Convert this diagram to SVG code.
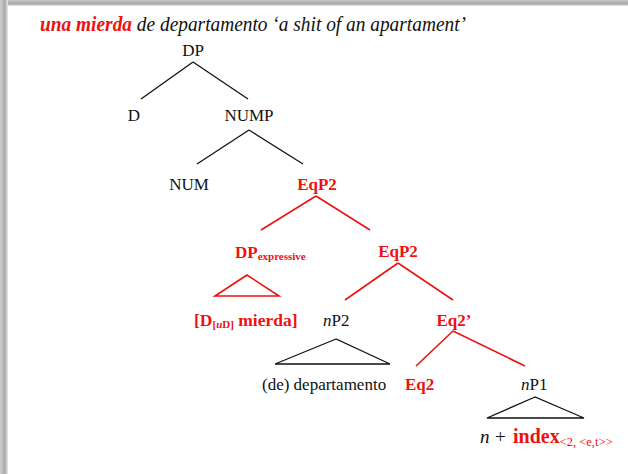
<svg xmlns="http://www.w3.org/2000/svg" width="628" height="474" viewBox="0 0 628 474">
  <style>
    .r { fill: #ee1111; font-weight: bold; }
    .it { font-style: italic; }
    .sub { font-size: 11px; }
    .mid { text-anchor: middle; }
    .k { stroke: #111; stroke-width: 1.3; fill: none; }
    .rl { stroke: #ee1111; stroke-width: 1.6; fill: none; }
  </style>
  <defs>
    <linearGradient id="shadowTop" x1="0" y1="0" x2="0" y2="1">
      <stop offset="0" stop-color="#c8c8c8"/>
      <stop offset="0.6" stop-color="#a8a8a8"/>
      <stop offset="1" stop-color="#e8e8e8"/>
    </linearGradient>
    <linearGradient id="shadowLeft" x1="0" y1="0" x2="1" y2="0">
      <stop offset="0" stop-color="#d0d0d0"/>
      <stop offset="0.6" stop-color="#a8a8a8"/>
      <stop offset="1" stop-color="#e6e6e6"/>
    </linearGradient>
  </defs>

  <!-- page background with shadow edges -->
  <rect x="0" y="0" width="628" height="474" fill="#ffffff"/>
  <rect x="0" y="0" width="628" height="6" fill="url(#shadowTop)"/>
  <rect x="0" y="0" width="8" height="474" fill="url(#shadowLeft)"/>

  <!-- connectors -->
  <g id="connectors">
    <line class="k" x1="193" y1="62" x2="141" y2="99"/>
    <line class="k" x1="193" y1="62" x2="248" y2="99"/>
    <line class="k" x1="249" y1="130" x2="197" y2="164"/>
    <line class="k" x1="249" y1="130" x2="303" y2="164"/>
    <line class="rl" x1="316" y1="196" x2="261" y2="230"/>
    <line class="rl" x1="316" y1="196" x2="370" y2="230"/>
    <line class="rl" x1="398" y1="263" x2="345" y2="300"/>
    <line class="rl" x1="398" y1="263" x2="453" y2="300"/>
    <line class="rl" x1="453" y1="331" x2="416" y2="366"/>
    <line class="rl" x1="453" y1="331" x2="525" y2="366"/>
    <polygon class="rl" points="247,275 215,296 279,296" stroke-width="1.3"/>
    <polygon class="k" points="336,339 275,364 390,364" stroke-width="1.1"/>
    <polygon class="k" points="535,397 487,418 584,418" stroke-width="1.1"/>
  </g>

  <g font-family="'Liberation Serif', 'Times New Roman', serif" font-size="17" fill="#111">
    <!-- title -->
    <text x="40" y="31" font-size="21" font-style="italic" textLength="426" lengthAdjust="spacingAndGlyphs"><tspan class="r">una mierda</tspan> de departamento ‘a shit of an apartament’</text>

    <g id="n-DP"><text class="mid" x="193" y="56">DP</text></g>
    <g id="n-D"><text class="mid" x="134" y="121">D</text></g>
    <g id="n-NUMP"><text class="mid" x="249" y="121">NUMP</text></g>
    <g id="n-NUM"><text class="mid" x="189" y="190">NUM</text></g>
    <g id="n-EqP2a"><text class="r mid" x="317" y="190">EqP2</text></g>
    <g id="n-DPexp"><text class="r" x="235" y="258">DP<tspan class="sub" dy="2">expressive</tspan></text></g>
    <g id="n-EqP2b"><text class="r mid" x="398" y="257">EqP2</text></g>
    <g id="n-mierda"><text class="r" x="194" y="326" font-size="17.5">[D<tspan class="sub" dy="2">[<tspan class="it">u</tspan>D]</tspan><tspan dy="-2"> mierda]</tspan></text></g>
    <g id="n-nP2"><text x="323" y="326"><tspan class="it">n</tspan>P2</text></g>
    <g id="n-Eq2p"><text class="r mid" x="454" y="326">Eq2’</text></g>
    <g id="n-depto"><text x="262" y="390">(de) departamento</text></g>
    <g id="n-Eq2"><text class="r" x="405" y="390">Eq2</text></g>
    <g id="n-nP1"><text x="521" y="390"><tspan class="it">n</tspan>P1</text></g>
    <g id="n-index"><text x="480" y="443" font-size="19"><tspan class="it">n</tspan><tspan x="495">+</tspan><tspan class="r" x="513" font-size="20">index</tspan><tspan dy="3" font-size="12.5" fill="#ee1111">&lt;2, &lt;e,t&gt;&gt;</tspan></text></g>
  </g>
</svg>
